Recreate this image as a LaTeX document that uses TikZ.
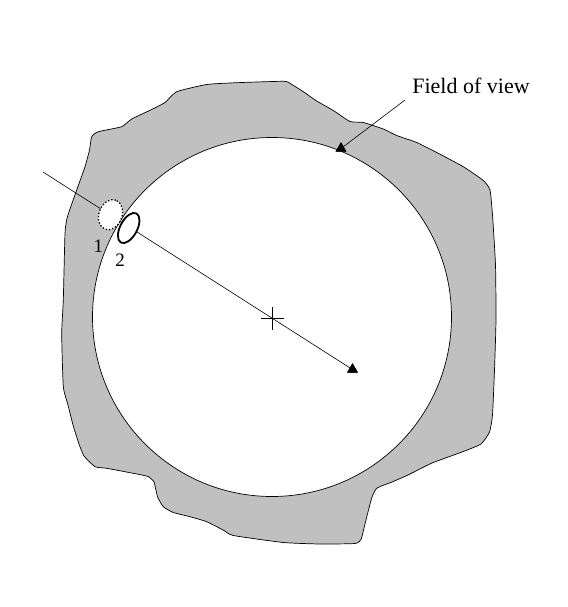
\documentclass[tikz,border=0pt]{standalone}
\usepackage{fontspec}
\setmainfont{Liberation Serif}
\usetikzlibrary{shapes.geometric}
\definecolor{fovgray}{RGB}{192,192,192}
\begin{document}
\begin{tikzpicture}[x=1pt,y=-1pt,
  thinline/.style={draw=black,line width=0.6pt},
  marker/.style={regular polygon,regular polygon sides=3,fill=black,inner sep=0pt,minimum size=12.5pt},
  lbl/.style={font=\fontsize{19}{22}\selectfont,anchor=base,inner sep=0pt},
  title/.style={font=\fontsize{22}{26}\selectfont,anchor=base,inner sep=0pt}]
\useasboundingbox (0,0) rectangle (567,607);
% irregular outer field
\filldraw[fill=fovgray,draw=black,line width=0.7pt] plot[smooth cycle,tension=0.3] coordinates {
(176.7,91.7) (206.7,84.5) (236.7,82.7) (284,81.3) (291,84) (303.3,91.7) (316.7,101)
(333.3,110.5) (350,121.5) (363.3,122.5) (383.3,129) (396.7,135.5) (416.7,142.5)
(436.7,152.5) (463.3,166.7) (483.3,180.5) (490,190) (492.5,215) (495.5,265)
(496,320) (494.5,370) (492.5,415) (489.5,432) (481,444) (462,452) (432,463)
(408,475) (392,482) (377,488) (372,497) (368,512) (364,528) (361,539.5) (355,543.5)
(320,544) (283.3,542.5) (233.3,535.5) (224,530.5) (206.7,521.7) (190,516.7)
(173.3,512.5) (163.3,506.7) (157.5,496.7) (154,482) (148,476.5) (133.3,473.3)
(106.7,468.3) (95,466.7) (84,456) (79,444) (73,425) (68,405) (63.3,386.7)
(61.7,333.3) (63.3,300) (65,233.3) (67,218.3) (70,209) (76.7,190) (85,166.7)
(89.5,150) (91.7,136.7) (98.3,131.7) (121.7,126.7) (131.7,119) (151.7,109.5)
(165,102.5)};
% inner circle
\node[circle,draw=black,line width=0.7pt,fill=white,minimum size=359pt,inner sep=0pt] (view) at (272,317) {};
% markers and lines
\coordinate (lstart) at (43,172);
\node[marker] (tri2) at (352.5,369.5) {};
\draw[thinline] (lstart) -- (tri2.center);
\node[marker] (tri2b) at (352.5,369.5) {};
\node[title] (fov) at (471,93.3) {Field of view};
\coordinate (fovstart) at (405,100);
\node[marker] (tri1) at (341,148.5) {};
\draw[thinline] (fovstart) -- (tri1.center);
\node[marker] (tri1b) at (341,148.5) {};
% cross at centre
\coordinate (ctr) at (272,318);
\draw[line width=0.6pt] ([xshift=-11.5pt]ctr) -- ([xshift=11.5pt]ctr);
\draw[line width=0.6pt] ([yshift=-11.5pt]ctr) -- ([yshift=11.5pt]ctr);
% ellipses
\node[ellipse,draw=black,dotted,line width=1.3pt,fill=white,minimum width=31pt,minimum height=23pt,inner sep=0pt,rotate=70] (e1) at (110.5,214.7) {};
\node[ellipse,draw=black,line width=1.8pt,fill=white,minimum width=33pt,minimum height=17pt,inner sep=0pt,rotate=62] (e2) at (128.7,228) {};
\node[lbl] (n1) at (98.3,252.7) {1};
\node[lbl] (n2) at (120,266) {2};
\end{tikzpicture}
\end{document}
